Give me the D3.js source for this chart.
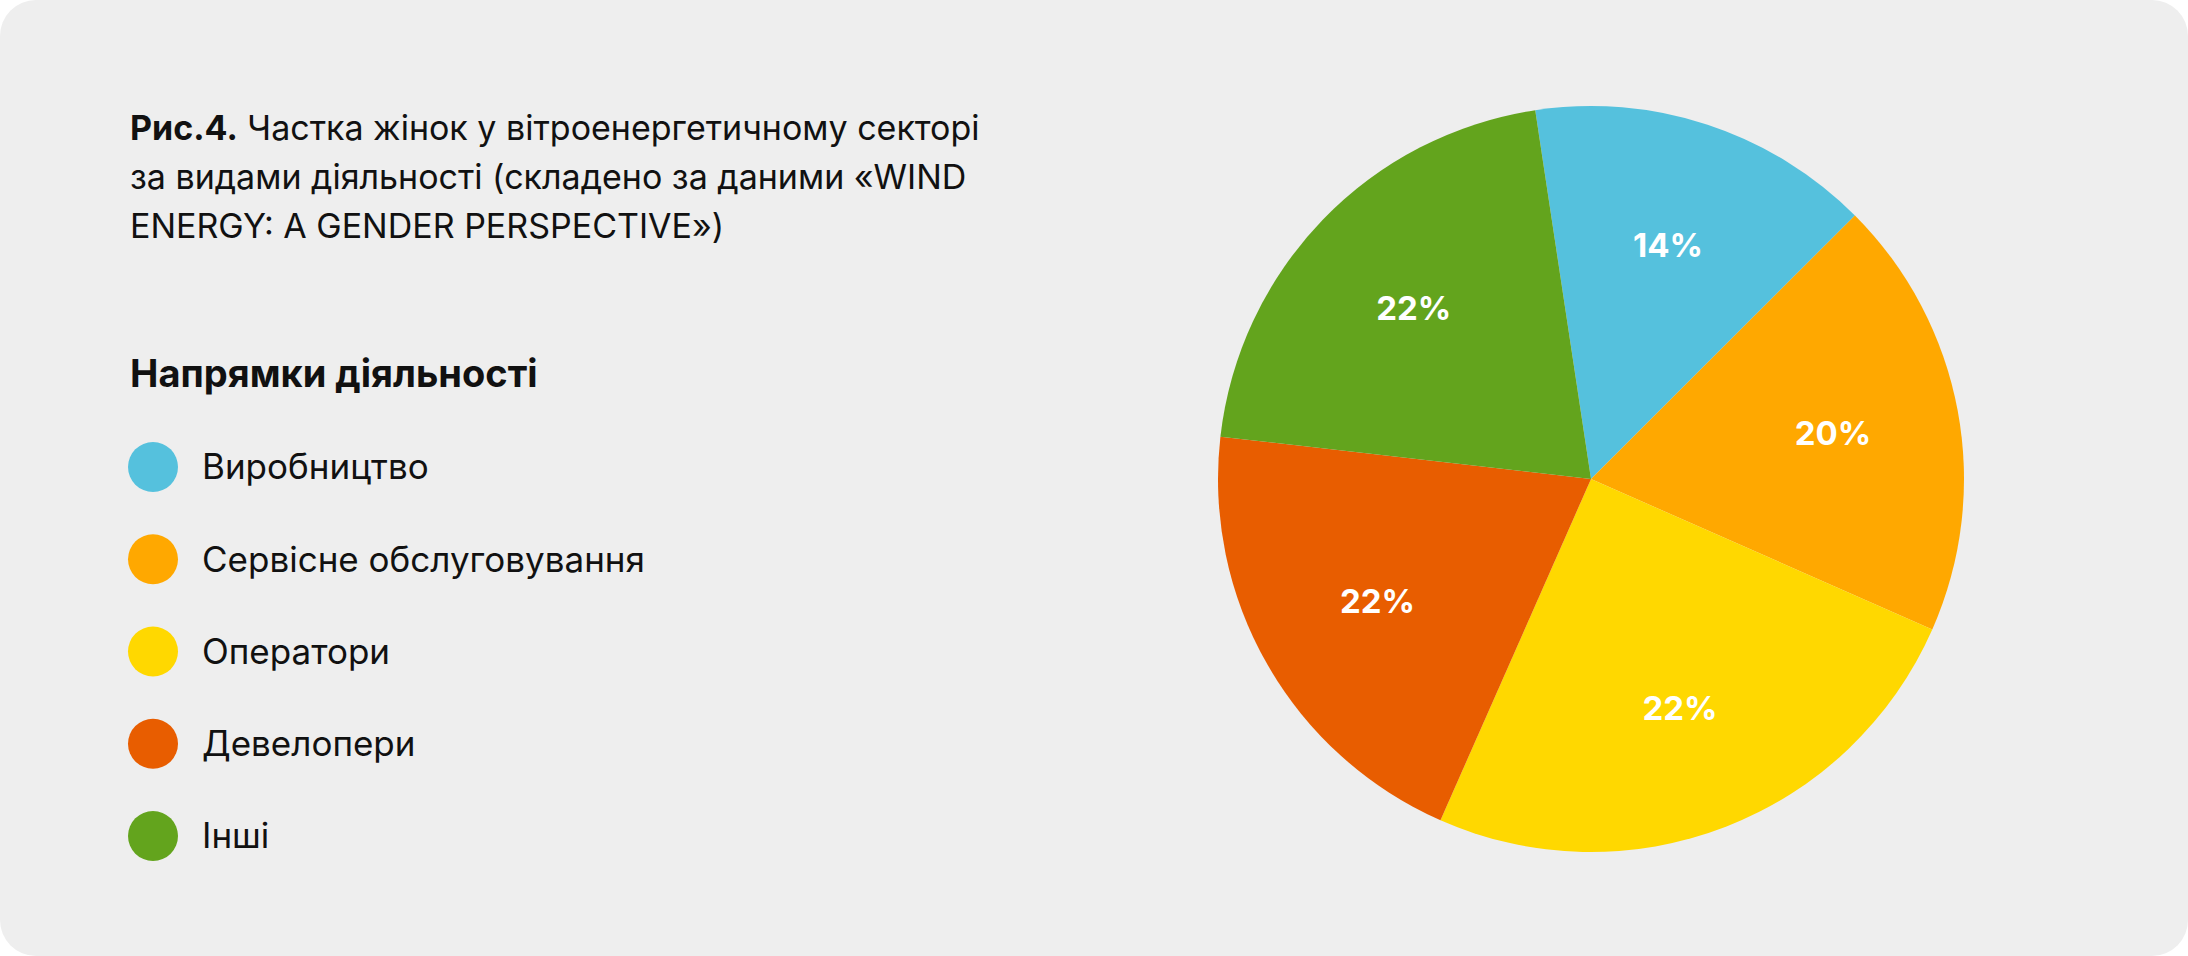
<!DOCTYPE html>
<html><head><meta charset="utf-8">
<script src="https://cdn.jsdelivr.net/npm/d3@7/dist/d3.min.js"></script>
<style>body{margin:0;background:#fff;}svg{display:block;font-family:Inter,"Noto Sans",sans-serif;}</style>
</head><body>
<svg id="c" width="2188" height="956"></svg>
<script>
const categories = ["Виробництво","Сервісне обслуговування","Оператори","Девелопери","Інші"];
const values = [14.9, 19.1, 25.0, 20.2, 20.8];
const valueLabels = ["14%","20%","22%","22%","22%"];
const colors = ["#55c1dd","#ffa800","#ffd800","#e85d00","#63a41d"];
const titleLines = [["Рис.4.", " Частка жінок у вітроенергетичному секторі"],["","за видами діяльності (складено за даними «WIND"],["","ENERGY: A GENDER PERSPECTIVE»)"]];

const svg = d3.select("#c");
svg.append("rect").attr("x",0).attr("y",0).attr("width",2188).attr("height",956).attr("rx",36).attr("fill","#eeeeee");

titleLines.forEach((l,i)=>{
  const t = svg.append("text").attr("x",130).attr("y",140+i*49).attr("font-size",34).attr("fill","#111");
  if(l[0]) t.append("tspan").attr("font-weight",700).text(l[0]);
  t.append("tspan").text(l[1]);
});
svg.append("text").attr("x",130).attr("y",387).attr("font-size",38).attr("font-weight",700).attr("fill","#111").text("Напрямки діяльності");
const ly = d3.scalePoint().domain(categories).range([467,836]);
categories.forEach((c,i)=>{
  svg.append("circle").attr("cx",153).attr("cy",ly(c)).attr("r",25).attr("fill",colors[i]);
  svg.append("text").attr("x",202).attr("y",ly(c)).attr("dy","0.35em").attr("font-size",35).attr("fill","#111").text(c);
});

const cx=1591, cy=479, r=373;
const start = -8.6*Math.PI/180;
const pie = d3.pie().sort(null).value(d=>d).startAngle(start).endAngle(start+2*Math.PI);
const arcs = pie(values);
const arc = d3.arc().innerRadius(0).outerRadius(r);
const larc = d3.arc().innerRadius(r*0.66).outerRadius(r*0.66);
const g = svg.append("g").attr("transform",`translate(${cx},${cy})`);
g.selectAll("path").data(arcs).join("path").attr("d",arc).attr("fill",(d,i)=>colors[i]);
g.selectAll("text").data(arcs).join("text").attr("transform",d=>`translate(${larc.centroid(d)})`)
  .attr("text-anchor","middle").attr("dy","0.35em").attr("font-size",33).attr("font-weight",700).attr("fill","#fff")
  .text((d,i)=>valueLabels[i]);
</script>
</body></html>
